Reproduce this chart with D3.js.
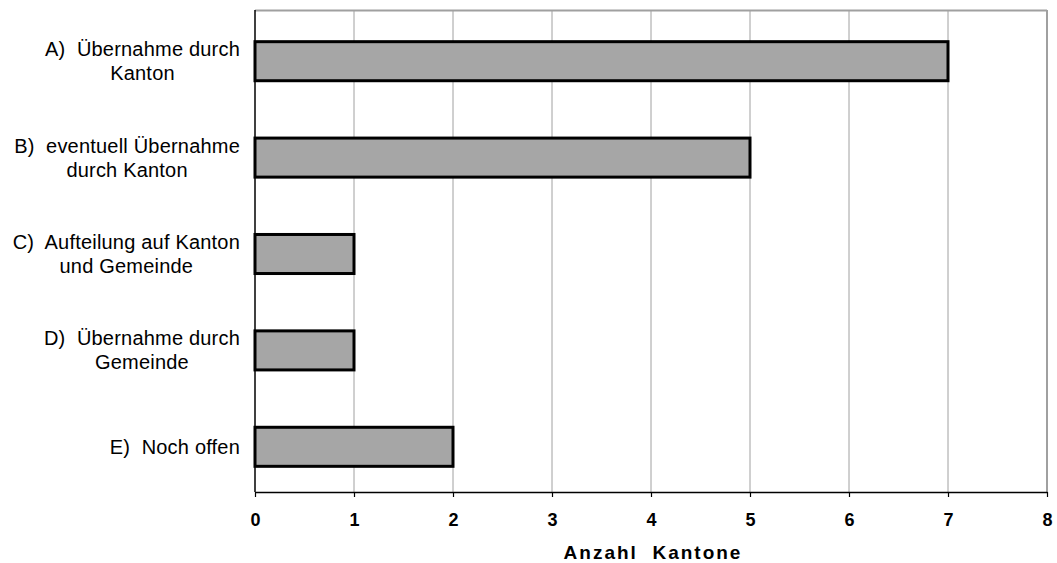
<!DOCTYPE html>
<html><head><meta charset="utf-8">
<script src="https://cdn.jsdelivr.net/npm/d3@7"></script>
<style>body{margin:0;background:#fff}svg{display:block}</style>
</head><body>
<svg id="c" width="1057" height="563"></svg>
<script>
const categories = [
  ["A)  Übernahme durch", "Kanton"],
  ["B)  eventuell Übernahme", "durch Kanton"],
  ["C)  Aufteilung auf Kanton", "und Gemeinde"],
  ["D)  Übernahme durch", "Gemeinde"],
  ["E)  Noch offen"]
];
const values = [7, 5, 1, 1, 2];
const xTicks = [0, 1, 2, 3, 4, 5, 6, 7, 8];
const xTitle = "Anzahl  Kantone";

const svg = d3.select("#c");
const L = 255, R = 1047, T = 10, B = 492;
const x = d3.scaleLinear().domain([0, 8]).range([L, R]);
const keys = categories.map((d, i) => i);
const y = d3.scaleBand().domain(keys).range([13, 495]).paddingInner(0.595).paddingOuter(0.2975);

// gridlines
svg.append("g").selectAll("line").data(xTicks.slice(1, -1)).join("line")
  .attr("x1", d => x(d)).attr("x2", d => x(d)).attr("y1", T).attr("y2", B)
  .attr("stroke", "#a0a0a0").attr("stroke-width", 1);
// plot border top & right
svg.append("line").attr("x1", L).attr("x2", R).attr("y1", T + 0.5).attr("y2", T + 0.5)
  .attr("stroke", "#a0a0a0").attr("stroke-width", 2);
svg.append("line").attr("x1", R).attr("x2", R).attr("y1", T).attr("y2", B)
  .attr("stroke", "#a0a0a0").attr("stroke-width", 2);

// bars
svg.append("g").selectAll("rect").data(values).join("rect")
  .attr("x", x(0)).attr("y", (d, i) => y(i))
  .attr("width", d => x(d) - x(0)).attr("height", y.bandwidth())
  .attr("fill", "#a6a6a6").attr("stroke", "#000").attr("stroke-width", 3);

// left axis line
svg.append("line").attr("x1", L).attr("x2", L).attr("y1", T).attr("y2", B)
  .attr("stroke", "#000").attr("stroke-width", 1.5);

// x axis
const xa = svg.append("g").attr("transform", `translate(0,${B})`)
  .call(d3.axisBottom(x).tickValues(xTicks).tickSize(5).tickPadding(16).tickSizeOuter(0));
xa.select(".domain").attr("stroke", "#000").attr("stroke-width", 1.5);
xa.selectAll(".tick line").attr("stroke", "#000").attr("stroke-width", 1.2);
xa.selectAll("text").attr("font-family", "Liberation Sans, Arial, sans-serif")
  .attr("font-size", 18).attr("font-weight", "bold").attr("fill", "#000");

svg.append("text").attr("x", 653).attr("y", 559).attr("text-anchor", "middle")
  .attr("font-family", "Liberation Sans, Arial, sans-serif").attr("font-size", 19)
  .attr("font-weight", "bold").attr("letter-spacing", 2)
  .style("white-space", "pre").text(xTitle);

// category labels: lines centered within block, block right-aligned
const lineH = 24, rightEdge = 240;
categories.forEach((lines, i) => {
  const cy = y(i) + y.bandwidth() / 2;
  const g = svg.append("g");
  const texts = lines.map((s, j) => g.append("text")
    .attr("font-family", "Liberation Sans, Arial, sans-serif").attr("font-size", 20)
    .attr("letter-spacing", 0.2)
    .attr("fill", "#000").style("white-space", "pre").attr("text-anchor", "middle")
    .attr("y", cy + (j - (lines.length - 1) / 2) * lineH + 7).text(s));
  const w = Math.max(...texts.map(t => t.node().getComputedTextLength()));
  const cx = rightEdge - w / 2;
  texts.forEach(t => t.attr("x", cx));
});
</script>
</body></html>
